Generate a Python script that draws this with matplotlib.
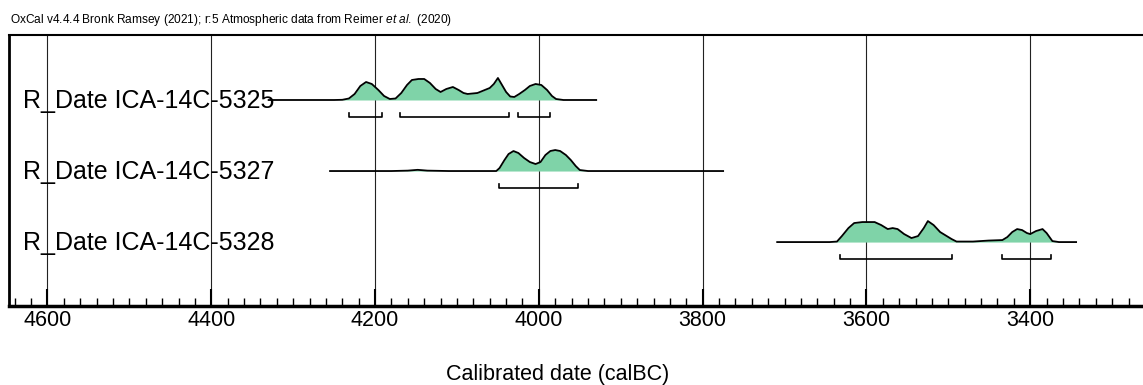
import matplotlib.pyplot as plt

plt.rcParams['font.family'] = ['Liberation Sans', 'DejaVu Sans']
plt.rcParams['mathtext.fontset'] = 'custom'
plt.rcParams['mathtext.it'] = 'Liberation Sans:italic'
plt.rcParams['mathtext.rm'] = 'Liberation Sans'

# labels for the three dates, top to bottom
names = ["R_Date ICA-14C-5325", "R_Date ICA-14C-5327", "R_Date ICA-14C-5328"]

# probability curves: calendar year (calBC) and relative height (pixels)
years_5325 = [4330, 4250, 4240, 4232, 4225, 4218, 4211, 4204, 4196, 4189, 4182, 4175, 4168, 4161,
              4155, 4147, 4140, 4133, 4126, 4120, 4113, 4105, 4098, 4092, 4087, 4075, 4060, 4055,
              4050, 4045, 4040, 4035, 4030, 4024, 4017, 4011, 4004, 3997, 3990, 3984, 3979, 3970, 3930]
dens_5325 = [0, 0, 0.2, 1.5, 6, 14, 18, 16, 10, 4, 1, 1.5, 7, 15,
             20, 21, 21, 17, 11, 8, 11, 13, 10, 7, 6, 7, 12, 16,
             22, 15, 8, 3.5, 3, 6, 10, 14, 16, 15, 10, 4, 1, 0, 0]

years_5327 = [4255, 4180, 4160, 4148, 4136, 4110, 4052, 4048, 4042, 4037, 4031, 4025, 4018,
              4011, 4004, 3998, 3992, 3986, 3980, 3974, 3967, 3961, 3955, 3950, 3940, 3775]
dens_5327 = [0, 0, 0.4, 1.2, 0.4, 0, 0, 3, 11, 17, 20, 18, 13,
             9, 7, 9, 16, 20, 21, 20, 16, 11, 5, 1, 0, 0]

years_5328 = [3709, 3645, 3636, 3630, 3622, 3615, 3605, 3590, 3582, 3574, 3568, 3562, 3554,
              3545, 3537, 3530, 3525, 3518, 3510, 3504, 3496, 3490, 3470, 3451, 3434, 3428,
              3422, 3416, 3410, 3404, 3400, 3393, 3385, 3380, 3373, 3365, 3344]
dens_5328 = [0, 0, 0.5, 6, 14, 19, 20, 20, 17, 13, 14, 13, 8,
             4, 6, 14, 21, 17, 10, 7, 3, 0.5, 0.5, 1.5, 2, 5,
             10, 13, 12, 9, 8, 11, 13, 9, 1, 0, 0]

curves = [(years_5325, dens_5325), (years_5327, dens_5327), (years_5328, dens_5328)]

# 95.4% ranges shown as brackets under each curve
ranges = [[(4232, 4191), (4169, 4036), (4026, 3986)],
          [(4049, 3952)],
          [(3632, 3496), (3434, 3375)]]

major_ticks = [4600, 4400, 4200, 4000, 3800, 3600, 3400]

fig = plt.figure(figsize=(11.43, 3.85), dpi=100)
ax = fig.add_axes([9 / 1143, 79 / 385, 1140 / 1143, 271 / 385])

row_pos = [3, 2, 1]
scale = 1 / 71.0

for x in major_ticks:
    ax.axvline(x, color="#222222", lw=0.8, zorder=1)

for pos, name, (yrs, dens), rng in zip(row_pos, names, curves, ranges):
    top = [pos + d * scale for d in dens]
    ax.fill_between(yrs, pos, top, color="#7fd3a8", lw=0, zorder=2)
    ax.plot(yrs, top, color="black", lw=1.3, zorder=3)
    for a, b in rng:
        yb = pos - 17 * scale
        ax.plot([a, a, b, b], [yb + 4 * scale, yb, yb, yb + 4 * scale],
                color="black", lw=1.2, zorder=3)
    ax.text(4630, pos - 0.02, name, fontsize=18, va="center", ha="left", zorder=4)

ax.set_xlim(4647, 3255)
ax.set_ylim(0.10, 3.915)
ax.set_yticks([])
ax.set_xticks(major_ticks)
ax.set_xticks(range(3260, 4660, 20), minor=True)
ax.tick_params(axis="x", which="major", direction="in", length=12, width=1.5, labelsize=15.5, pad=3)
ax.tick_params(axis="x", which="minor", direction="in", length=6, width=1)

ax.spines["left"].set_linewidth(2)
ax.spines["bottom"].set_linewidth(2.5)
ax.spines["top"].set_linewidth(1.5)
ax.spines["right"].set_visible(False)

ax.set_xlabel("Calibrated date (calBC)", fontsize=15.5, labelpad=20)
ax.xaxis.set_label_coords(0.481, -0.215)

fig.text(10 / 1143, 1 - 20 / 385,
         "OxCal v4.4.4 Bronk Ramsey (2021); r:5 Atmospheric data from Reimer $\\mathit{et\\ al.}$ (2020)",
         fontsize=8.6, va="center", ha="left")

fig.savefig("out.png", dpi=100)
